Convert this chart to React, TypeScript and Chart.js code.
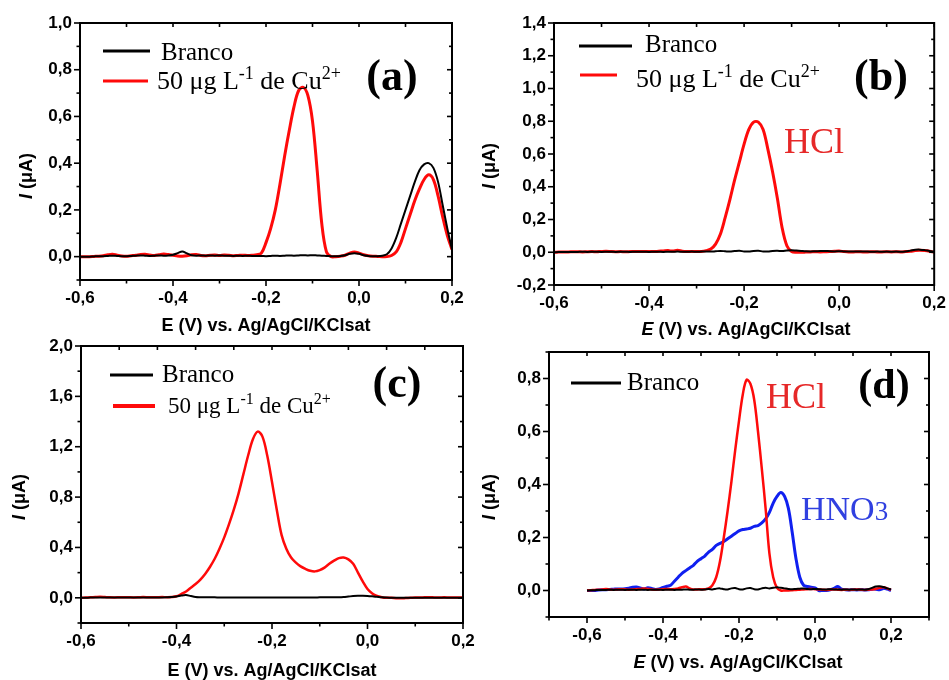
import React, { useEffect, useRef } from 'react';
import { Chart, registerables } from 'chart.js';
Chart.register(...registerables);

// ---------- DATA ----------
const potentials = [
  -0.60, -0.59, -0.58, -0.57, -0.56, -0.55, -0.54, -0.53, -0.52, -0.51,
  -0.50, -0.49, -0.48, -0.47, -0.46, -0.45, -0.44, -0.43, -0.42, -0.41,
  -0.40, -0.39, -0.38, -0.37, -0.36, -0.35, -0.34, -0.33, -0.32, -0.31,
  -0.30, -0.29, -0.28, -0.27, -0.26, -0.25, -0.24, -0.23, -0.22, -0.21,
  -0.20, -0.19, -0.18, -0.17, -0.16, -0.15, -0.14, -0.13, -0.12, -0.11,
  -0.10, -0.09, -0.08, -0.07, -0.06, -0.05, -0.04, -0.03, -0.02, -0.01,
  0.00, 0.01, 0.02, 0.03, 0.04, 0.05, 0.06, 0.07, 0.08, 0.09,
  0.10, 0.11, 0.12, 0.13, 0.14, 0.15, 0.16, 0.17, 0.18, 0.19,
  0.20,
];

// (a)
const aBlank = [
  0.000, 0.000, 0.000, 0.001, 0.002, 0.002, 0.003, 0.004, 0.003, 0.002,
  0.002, 0.003, 0.004, 0.005, 0.004, 0.003, 0.004, 0.005, 0.004, 0.005,
  0.008, 0.015, 0.022, 0.014, 0.006, 0.004, 0.005, 0.004, 0.005, 0.004,
  0.005, 0.004, 0.004, 0.003, 0.004, 0.003, 0.004, 0.003, 0.003, 0.003,
  0.002, 0.003, 0.004, 0.003, 0.004, 0.005, 0.004, 0.005, 0.006, 0.005,
  0.006, 0.005, 0.004, 0.003, 0.002, 0.002, 0.003, 0.006, 0.012, 0.015,
  0.012, 0.006, 0.003, 0.002, 0.002, 0.004, 0.010, 0.035, 0.080, 0.140,
  0.200, 0.260, 0.320, 0.370, 0.395, 0.400, 0.380, 0.320, 0.220, 0.120,
  0.030,
];
const aCu = [
  0.000, 0.000, 0.000, 0.001, 0.002, 0.004, 0.008, 0.010, 0.006, 0.003,
  0.002, 0.004, 0.006, 0.009, 0.010, 0.007, 0.005, 0.008, 0.011, 0.009,
  0.006, 0.003, 0.002, 0.004, 0.008, 0.009, 0.005, 0.004, 0.006, 0.007,
  0.005, 0.007, 0.006, 0.004, 0.005, 0.006, 0.005, 0.006, 0.008, 0.015,
  0.060, 0.120, 0.200, 0.310, 0.430, 0.540, 0.640, 0.710, 0.725, 0.690,
  0.580, 0.370, 0.140, 0.020, 0.000, 0.000, 0.002, 0.006, 0.015, 0.020,
  0.015, 0.008, 0.004, 0.002, 0.001, 0.000, 0.000, 0.005, 0.020, 0.060,
  0.120, 0.180, 0.240, 0.290, 0.330, 0.350, 0.330, 0.260, 0.170, 0.090,
  0.030,
];

// (b)
const bBlank = [
  0.000, 0.001, 0.001, 0.002, 0.002, 0.002, 0.003, 0.002, 0.003, 0.003,
  0.002, 0.003, 0.003, 0.002, 0.003, 0.003, 0.002, 0.003, 0.003, 0.003,
  0.002, 0.003, 0.003, 0.002, 0.003, 0.003, 0.004, 0.003, 0.003, 0.004,
  0.003, 0.004, 0.005, 0.004, 0.006, 0.008, 0.006, 0.004, 0.007, 0.009,
  0.005, 0.004, 0.008, 0.009, 0.005, 0.004, 0.008, 0.009, 0.007, 0.010,
  0.012, 0.010, 0.008, 0.006, 0.005, 0.006, 0.007, 0.008, 0.006, 0.005,
  0.006, 0.005, 0.004, 0.004, 0.005, 0.004, 0.004, 0.003, 0.004, 0.003,
  0.004, 0.003, 0.004, 0.003, 0.005, 0.010, 0.015, 0.016, 0.013, 0.008,
  0.004,
];
const bCu = [
  0.000, 0.001, 0.002, 0.002, 0.003, 0.003, 0.002, 0.003, 0.004, 0.003,
  0.005, 0.006, 0.004, 0.003, 0.004, 0.003, 0.004, 0.005, 0.004, 0.004,
  0.005, 0.004, 0.006, 0.008, 0.010, 0.007, 0.012, 0.006, 0.004, 0.004,
  0.004, 0.005, 0.010, 0.020, 0.050, 0.110, 0.210, 0.320, 0.440, 0.550,
  0.660, 0.750, 0.795, 0.795, 0.750, 0.630, 0.490, 0.330, 0.150, 0.040,
  0.005, 0.000, 0.000, 0.001, 0.002, 0.003, 0.002, 0.003, 0.004, 0.006,
  0.007, 0.004, 0.002, 0.002, 0.003, 0.002, 0.002, 0.003, 0.002, 0.002,
  0.003, 0.002, 0.003, 0.002, 0.004, 0.006, 0.010, 0.012, 0.010, 0.006,
  0.000,
];

// (c)
const cBlank = [
  0.000, 0.001, 0.002, 0.002, 0.003, 0.002, 0.002, 0.003, 0.002, 0.002,
  0.003, 0.002, 0.002, 0.003, 0.003, 0.002, 0.003, 0.003, 0.004, 0.006,
  0.010, 0.018, 0.022, 0.014, 0.007, 0.005, 0.004, 0.004, 0.004, 0.003,
  0.003, 0.003, 0.003, 0.002, 0.002, 0.002, 0.002, 0.002, 0.002, 0.002,
  0.002, 0.002, 0.002, 0.002, 0.002, 0.003, 0.003, 0.003, 0.003, 0.003,
  0.004, 0.004, 0.004, 0.004, 0.004, 0.006, 0.010, 0.014, 0.016, 0.016,
  0.015, 0.012, 0.008, 0.004, 0.002, 0.001, 0.000, 0.000, 0.001, 0.001,
  0.001, 0.001, 0.001, 0.001, 0.001, 0.001, 0.001, 0.001, 0.001, 0.001,
  0.001,
];
const cCu = [
  0.000, 0.002, 0.004, 0.006, 0.008, 0.006, 0.004, 0.003, 0.004, 0.005,
  0.004, 0.003, 0.004, 0.006, 0.005, 0.004, 0.005, 0.006, 0.005, 0.006,
  0.012, 0.030, 0.050, 0.080, 0.110, 0.145, 0.190, 0.245, 0.310, 0.390,
  0.480, 0.585, 0.700, 0.830, 0.980, 1.130, 1.260, 1.320, 1.280, 1.130,
  0.920, 0.700, 0.500, 0.390, 0.320, 0.280, 0.250, 0.230, 0.215, 0.210,
  0.220, 0.240, 0.270, 0.295, 0.315, 0.320, 0.305, 0.270, 0.200, 0.130,
  0.070, 0.035, 0.015, 0.005, 0.000, 0.000, -0.003, -0.004, -0.002, 0.000,
  0.002, 0.003, 0.004, 0.005, 0.003, 0.002, 0.004, 0.003, 0.002, 0.002,
  0.002,
];

// (d)
const dBlank = [
  0.000, 0.001, 0.001, 0.002, 0.002, 0.002, 0.003, 0.002, 0.003, 0.003,
  0.002, 0.003, 0.003, 0.002, 0.003, 0.003, 0.002, 0.003, 0.003, 0.003,
  0.002, 0.003, 0.003, 0.002, 0.003, 0.003, 0.004, 0.003, 0.003, 0.004,
  0.003, 0.004, 0.006, 0.004, 0.007, 0.008, 0.005, 0.004, 0.008, 0.009,
  0.005, 0.004, 0.008, 0.009, 0.005, 0.004, 0.008, 0.010, 0.008, 0.010,
  0.012, 0.010, 0.008, 0.006, 0.005, 0.006, 0.007, 0.008, 0.006, 0.005,
  0.006, 0.005, 0.004, 0.004, 0.005, 0.004, 0.004, 0.003, 0.004, 0.003,
  0.004, 0.003, 0.004, 0.003, 0.005, 0.010, 0.015, 0.016, 0.013, 0.008,
  0.004,
];
const dHCl = [
  0.000, 0.001, 0.002, 0.003, 0.004, 0.006, 0.004, 0.003, 0.004, 0.005,
  0.004, 0.003, 0.004, 0.005, 0.006, 0.008, 0.006, 0.004, 0.003, 0.004,
  0.005, 0.006, 0.005, 0.006, 0.008, 0.012, 0.015, 0.008, 0.004, 0.004,
  0.005, 0.005, 0.008, 0.020, 0.050, 0.110, 0.200, 0.300, 0.410, 0.530,
  0.640, 0.740, 0.795, 0.780, 0.720, 0.600, 0.460, 0.310, 0.140, 0.050,
  0.010, 0.000, 0.000, 0.000, 0.001, 0.002, 0.003, 0.004, 0.005, 0.006,
  0.005, 0.004, 0.003, 0.002, 0.003, 0.004, 0.003, 0.002, 0.003, 0.002,
  0.003, 0.004, 0.003, 0.002, 0.003, 0.004, 0.006, 0.010, 0.012, 0.008,
  0.002,
];
const dHNO3 = [
  0.000, 0.000, 0.000, 0.002, 0.003, 0.003, 0.004, 0.005, 0.006, 0.006,
  0.007, 0.009, 0.012, 0.013, 0.010, 0.006, 0.010, 0.008, 0.004, 0.006,
  0.012, 0.016, 0.020, 0.035, 0.050, 0.065, 0.075, 0.085, 0.095, 0.110,
  0.120, 0.130, 0.145, 0.155, 0.170, 0.178, 0.185, 0.195, 0.205, 0.215,
  0.225, 0.230, 0.232, 0.235, 0.242, 0.245, 0.255, 0.270, 0.295, 0.330,
  0.355, 0.370, 0.355, 0.310, 0.220, 0.120, 0.050, 0.020, 0.015, 0.012,
  0.010, 0.000, 0.000, 0.000, 0.003, 0.008, 0.015, 0.005, 0.003, 0.002,
  0.003, 0.002, 0.003, 0.002, 0.003, 0.005, 0.005, 0.003, 0.008, 0.005,
  0.000,
];

// tick values
const xTicksMain = [-0.6, -0.4, -0.2, 0.0, 0.2];
const xMinorMain = [-0.5, -0.3, -0.1, 0.1];
const aYTicks = [0.0, 0.2, 0.4, 0.6, 0.8, 1.0];
const aYMinor = [-0.1, 0.1, 0.3, 0.5, 0.7, 0.9];
const bYTicks = [-0.2, 0.0, 0.2, 0.4, 0.6, 0.8, 1.0, 1.2, 1.4];
const bYMinor = [-0.1, 0.1, 0.3, 0.5, 0.7, 0.9, 1.1, 1.3];
const cYTicks = [0.0, 0.4, 0.8, 1.2, 1.6, 2.0];
const cYMinor = [-0.2, 0.2, 0.6, 1.0, 1.4, 1.8];
const cTopTicks = [-0.6, -0.52, -0.44, -0.36, -0.28, -0.2, -0.12, -0.04, 0.04, 0.12, 0.2];
const dXMinor = [-0.7, -0.5, -0.3, -0.1, 0.1, 0.3];
const dYTicks = [0.0, 0.2, 0.4, 0.6, 0.8];
const dYMinor = [-0.1, 0.1, 0.3, 0.5, 0.7, 0.9];

// ---------- STYLE ----------
const SANS = '"Liberation Sans", Arial, sans-serif';
const SERIF = '"Liberation Serif", "Times New Roman", serif';
const RED = '#ff0a0a';
const BLACK = '#000000';
const BLUE = '#1020f0';
const W = 949;
const H = 680;
const YW = 45;
const XH = 30;

const fmt = (v: any) => Number(v).toFixed(1).replace('.', ',');

const cuParts = (s: number) => [
  { t: '50 \u03bcg L', f: `${s}px ${SERIF}` },
  { t: '-1', f: `${Math.round(s * 0.68)}px ${SERIF}`, dy: s * 0.4 },
  { t: ' de Cu', f: `${s}px ${SERIF}` },
  { t: '2+', f: `${Math.round(s * 0.68)}px ${SERIF}`, dy: s * 0.4 },
];
const branco = (s: number) => [{ t: 'Branco', f: `${s}px ${SERIF}` }];
const xTitle = (italic: boolean) => [
  { t: 'E', f: `${italic ? 'italic ' : ''}bold 18px ${SANS}` },
  { t: ' (V) vs. Ag/AgCl/KClsat', f: `bold 18px ${SANS}` },
];
const yTitle = [
  { t: 'I', f: `italic bold 18px ${SANS}` },
  { t: ' (\u03bcA)', f: `bold 18px ${SANS}` },
];
const label = (s: string, size: number) => [{ t: s, f: `bold ${size}px ${SERIF}` }];

const panels = [
  {
    plot: { left: 80, top: 23, right: 452, bottom: 280 },
    x: [-0.6, 0.2], y: [-0.1, 1.0],
    xTicks: xTicksMain, xMinor: xMinorMain, yTicks: aYTicks, yMinor: aYMinor,
    series: [
      { data: aBlank, color: BLACK, width: 2 },
      { data: aCu, color: RED, width: 3 },
    ],
    lines: [
      { x1: 103, x2: 150, y: 51, color: BLACK, w: 3 },
      { x1: 103, x2: 148, y: 81, color: RED, w: 3 },
    ],
    texts: [
      { parts: branco(25), x: 161, y: 60, color: BLACK },
      { parts: cuParts(26), x: 157, y: 89, color: BLACK },
      { parts: label('(a)', 44), x: 392, y: 90, color: BLACK, center: true },
      { parts: xTitle(false), x: 266, y: 331, color: BLACK, center: true },
      { parts: yTitle, x: 26, y: 176, color: BLACK, center: true, rot: true },
    ],
  },
  {
    plot: { left: 554, top: 23, right: 936, bottom: 285 },
    x: [-0.6, 0.2], y: [-0.2, 1.4],
    xTicks: xTicksMain, xMinor: xMinorMain, yTicks: bYTicks, yMinor: bYMinor,
    series: [
      { data: bBlank, color: BLACK, width: 2 },
      { data: bCu, color: RED, width: 3 },
    ],
    lines: [
      { x1: 579, x2: 632, y: 46, color: BLACK, w: 3 },
      { x1: 580, x2: 617, y: 75, color: RED, w: 3 },
    ],
    texts: [
      { parts: branco(25), x: 645, y: 52, color: BLACK },
      { parts: cuParts(26), x: 636, y: 87, color: BLACK },
      { parts: label('(b)', 44), x: 881, y: 90, color: BLACK, center: true },
      { parts: [{ t: 'HCl', f: `36px ${SERIF}` }], x: 784, y: 153, color: '#e62828' },
      { parts: xTitle(true), x: 746, y: 335, color: BLACK, center: true },
      { parts: yTitle, x: 489, y: 166, color: BLACK, center: true, rot: true },
    ],
  },
  {
    plot: { left: 81, top: 346, right: 463, bottom: 623 },
    x: [-0.6, 0.2], y: [-0.2, 2.0],
    xTicks: xTicksMain, xMinor: xMinorMain, yTicks: cYTicks, yMinor: cYMinor, topTicks: cTopTicks,
    series: [
      { data: cBlank, color: BLACK, width: 2 },
      { data: cCu, color: RED, width: 2.5 },
    ],
    lines: [
      { x1: 110, x2: 153, y: 375, color: BLACK, w: 3 },
      { x1: 113, x2: 155, y: 406, color: RED, w: 4 },
    ],
    texts: [
      { parts: branco(25), x: 162, y: 382, color: BLACK },
      { parts: cuParts(23), x: 168, y: 413, color: BLACK },
      { parts: label('(c)', 44), x: 397, y: 397, color: BLACK, center: true },
      { parts: xTitle(false), x: 272, y: 676, color: BLACK, center: true },
      { parts: yTitle, x: 19, y: 497, color: BLACK, center: true, rot: true },
    ],
  },
  {
    plot: { left: 549, top: 352, right: 929, bottom: 617 },
    x: [-0.7, 0.3], y: [-0.1, 0.9],
    xTicks: xTicksMain, xMinor: dXMinor, yTicks: dYTicks, yMinor: dYMinor,
    series: [
      { data: dBlank, color: BLACK, width: 2 },
      { data: dHCl, color: RED, width: 2.5 },
      { data: dHNO3, color: BLUE, width: 3 },
    ],
    lines: [{ x1: 571, x2: 621, y: 383, color: BLACK, w: 3 }],
    texts: [
      { parts: branco(25), x: 627, y: 390, color: BLACK },
      { parts: [{ t: 'HCl', f: `36px ${SERIF}` }], x: 766, y: 408, color: '#e62828' },
      {
        parts: [
          { t: 'HNO', f: `34px ${SERIF}` },
          { t: '3', f: `27px ${SERIF}` },
        ],
        x: 801, y: 520, color: '#3040e0',
      },
      { parts: label('(d)', 42), x: 884, y: 398, color: BLACK, center: true },
      { parts: xTitle(true), x: 738, y: 668, color: BLACK, center: true },
      { parts: yTitle, x: 489, y: 497, color: BLACK, center: true, rot: true },
    ],
  },
];

function drawParts(ctx: any, parts: any[], x: number, y: number, center: boolean, color: string) {
  ctx.fillStyle = color;
  ctx.textAlign = 'left';
  ctx.textBaseline = 'alphabetic';
  const widths = parts.map((p) => {
    ctx.font = p.f;
    return ctx.measureText(p.t).width;
  });
  const total = widths.reduce((a: number, b: number) => a + b, 0);
  let cx = center ? x - total / 2 : x;
  parts.forEach((p, i) => {
    ctx.font = p.f;
    ctx.fillText(p.t, cx, y - (p.dy || 0));
    cx += widths[i];
  });
}

function makeDeco(p: any) {
  return {
    id: 'deco',
    afterDraw(chart: any) {
      const { ctx, chartArea: ca, scales } = chart;
      const xs = scales.x;
      const ys = scales.y;
      ctx.save();
      ctx.strokeStyle = '#000';
      ctx.lineCap = 'butt';
      const seg = (x1: number, y1: number, x2: number, y2: number) => {
        ctx.beginPath();
        ctx.moveTo(x1, y1);
        ctx.lineTo(x2, y2);
        ctx.stroke();
      };
      // ticks
      ctx.lineWidth = 1.6;
      p.xTicks.forEach((v: number) => {
        const px = xs.getPixelForValue(v);
        seg(px, ca.bottom, px, ca.bottom + 6);
      });
      p.xMinor.forEach((v: number) => {
        const px = xs.getPixelForValue(v);
        seg(px, ca.bottom, px, ca.bottom + 3.5);
      });
      const top = p.topTicks || p.xTicks.concat(p.xMinor);
      top.forEach((v: number) => {
        const px = xs.getPixelForValue(v);
        seg(px, ca.top, px, ca.top + 4);
      });
      p.yTicks.forEach((v: number) => {
        const py = ys.getPixelForValue(v);
        seg(ca.left, py, ca.left - 6, py);
        seg(ca.right, py, ca.right - 5, py);
      });
      p.yMinor.forEach((v: number) => {
        const py = ys.getPixelForValue(v);
        seg(ca.left, py, ca.left - 3.5, py);
        seg(ca.right, py, ca.right - 3, py);
      });
      // frame
      ctx.lineWidth = 2;
      ctx.strokeRect(ca.left, ca.top, ca.right - ca.left, ca.bottom - ca.top);
      // legend samples
      p.lines.forEach((l: any) => {
        ctx.strokeStyle = l.color;
        ctx.lineWidth = l.w;
        seg(l.x1, l.y, l.x2, l.y);
      });
      // texts
      p.texts.forEach((t: any) => {
        if (t.rot) {
          ctx.save();
          ctx.translate(t.x, t.y);
          ctx.rotate(-Math.PI / 2);
          drawParts(ctx, t.parts, 0, 6, true, t.color);
          ctx.restore();
        } else {
          drawParts(ctx, t.parts, t.x, t.y, !!t.center, t.color);
        }
      });
      ctx.restore();
    },
  };
}

function Panel({ p }: { p: any }) {
  const ref = useRef<HTMLCanvasElement>(null);
  useEffect(() => {
    const tickFont = { family: SANS, size: 17, weight: 'bold' as const };
    const chart = new Chart(ref.current as HTMLCanvasElement, {
      type: 'line',
      data: {
        datasets: p.series.map((s: any) => ({
          data: potentials.map((x, i) => ({ x, y: s.data[i] })),
          borderColor: s.color,
          borderWidth: s.width,
          pointRadius: 0,
          fill: false,
          tension: 0.35,
        })),
      },
      options: {
        responsive: false,
        animation: false,
        events: [],
        layout: {
          padding: {
            left: p.plot.left - YW,
            top: p.plot.top,
            right: W - p.plot.right,
            bottom: H - p.plot.bottom - XH,
          },
        },
        plugins: { legend: { display: false }, tooltip: { enabled: false } },
        scales: {
          x: {
            type: 'linear',
            min: p.x[0],
            max: p.x[1],
            afterFit: (s: any) => { s.height = XH; },
            afterBuildTicks: (s: any) => { s.ticks = p.xTicks.map((v: number) => ({ value: v })); },
            grid: { display: false, drawTicks: true, tickLength: 5 },
            border: { display: false },
            ticks: { autoSkip: false, maxRotation: 0, padding: 3, color: '#000', font: tickFont, callback: fmt },
          },
          y: {
            type: 'linear',
            min: p.y[0],
            max: p.y[1],
            afterFit: (s: any) => { s.width = YW; },
            afterBuildTicks: (s: any) => { s.ticks = p.yTicks.map((v: number) => ({ value: v })); },
            grid: { display: false, drawTicks: true, tickLength: 5 },
            border: { display: false },
            ticks: { autoSkip: false, padding: 3, color: '#000', font: tickFont, callback: fmt },
          },
        },
      },
      plugins: [makeDeco(p)],
    } as any);
    return () => chart.destroy();
  }, [p]);
  return (
    <canvas
      ref={ref}
      width={W}
      height={H}
      style={{ position: 'absolute', left: 0, top: 0, width: W, height: H }}
    />
  );
}

export default function App() {
  return (
    <div style={{ position: 'absolute', left: 0, top: 0, width: W, height: H, background: '#fff', overflow: 'hidden' }}>
      {panels.map((p, i) => (
        <Panel key={i} p={p} />
      ))}
    </div>
  );
}
